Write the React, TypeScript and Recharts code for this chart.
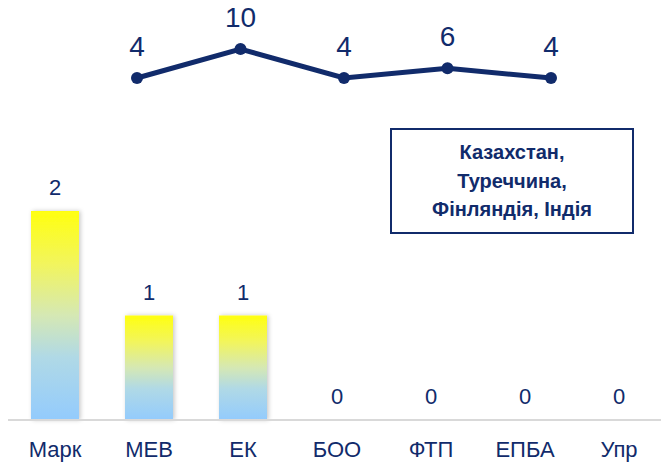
import React from 'react';
import { ComposedChart, Bar, XAxis, YAxis, LabelList, LineChart, Line } from 'recharts';

const categories = ['Марк', 'МЕВ', 'ЕК', 'БОО', 'ФТП', 'ЕПБА', 'Упр'];
const barValues = [2, 1, 1, 0, 0, 0, 0];
const lineValues = [4, 10, 4, 6, 4];
const noteLines = ['Казахстан,', 'Туреччина,', 'Фінляндія, Індія'];

const barData = categories.map((c, i) => ({ name: c, value: barValues[i] }));
const lineData = lineValues.map((v, i) => ({ idx: i, value: v }));

const NAVY = '#112b6b';
const FONT = '"Liberation Sans", Arial, sans-serif';

export default function App() {
  return (
    <div style={{ position: 'absolute', left: 0, top: 0, width: 661, height: 462, overflow: 'hidden', background: '#fff', fontFamily: FONT }}>
      <div style={{ position: 'absolute', left: 0, top: 0 }}>
        <ComposedChart width={666} height={462} data={barData} margin={{ top: 211, right: 0, left: 8, bottom: 0 }} barSize={48}>
          <defs>
            <linearGradient id="barGrad" x1="0" y1="0" x2="0" y2="1">
              <stop offset="0%" stopColor="#ffff10" />
              <stop offset="25%" stopColor="#f2f55c" />
              <stop offset="50%" stopColor="#d5e8b4" />
              <stop offset="70%" stopColor="#b0d9e6" />
              <stop offset="100%" stopColor="#93cbfd" />
            </linearGradient>
            <filter id="barShadow" x="-30%" y="-10%" width="160%" height="120%">
              <feDropShadow dx="1.5" dy="0" stdDeviation="2" floodColor="#000" floodOpacity="0.22" />
            </filter>
          </defs>
          <XAxis
            dataKey="name"
            axisLine={{ stroke: '#d9d9d9', strokeWidth: 2 }}
            tickLine={false}
            height={42}
            tickMargin={15}
            interval={0}
            tick={{ fill: NAVY, fontSize: 22, fontFamily: FONT }}
          />
          <YAxis hide domain={[0, 2]} />
          <Bar dataKey="value" fill="url(#barGrad)" filter="url(#barShadow)" isAnimationActive={false} />
          <Line dataKey="value" stroke="none" dot={false} activeDot={false} isAnimationActive={false}>
            <LabelList dataKey="value" position="top" offset={16} fill={NAVY} fontSize={22} fontFamily={FONT} />
          </Line>
        </ComposedChart>
      </div>
      <div style={{ position: 'absolute', left: 0, top: 0 }}>
        <LineChart width={661} height={110} data={lineData} margin={{ top: 0.7, right: 110, left: 137, bottom: 12.7 }}>
          <XAxis dataKey="idx" hide />
          <YAxis hide domain={[0, 20]} />
          <Line
            dataKey="value"
            stroke={NAVY}
            strokeWidth={5}
            dot={{ r: 6, fill: NAVY, stroke: 'none' }}
            isAnimationActive={false}
          >
            <LabelList dataKey="value" position="top" offset={22} fill={NAVY} fontSize={28} fontFamily={FONT} />
          </Line>
        </LineChart>
      </div>
      <div
        style={{
          position: 'absolute',
          left: 390,
          top: 128,
          width: 244,
          height: 106,
          boxSizing: 'border-box',
          border: `2px solid ${NAVY}`,
          display: 'flex',
          flexDirection: 'column',
          alignItems: 'center',
          justifyContent: 'center',
          color: NAVY,
          fontWeight: 'bold',
          fontSize: 20,
          lineHeight: '28.5px',
          fontFamily: FONT,
          textAlign: 'center',
          background: '#fff',
        }}
      >
        {noteLines.map((t) => (
          <div key={t}>{t}</div>
        ))}
      </div>
    </div>
  );
}
